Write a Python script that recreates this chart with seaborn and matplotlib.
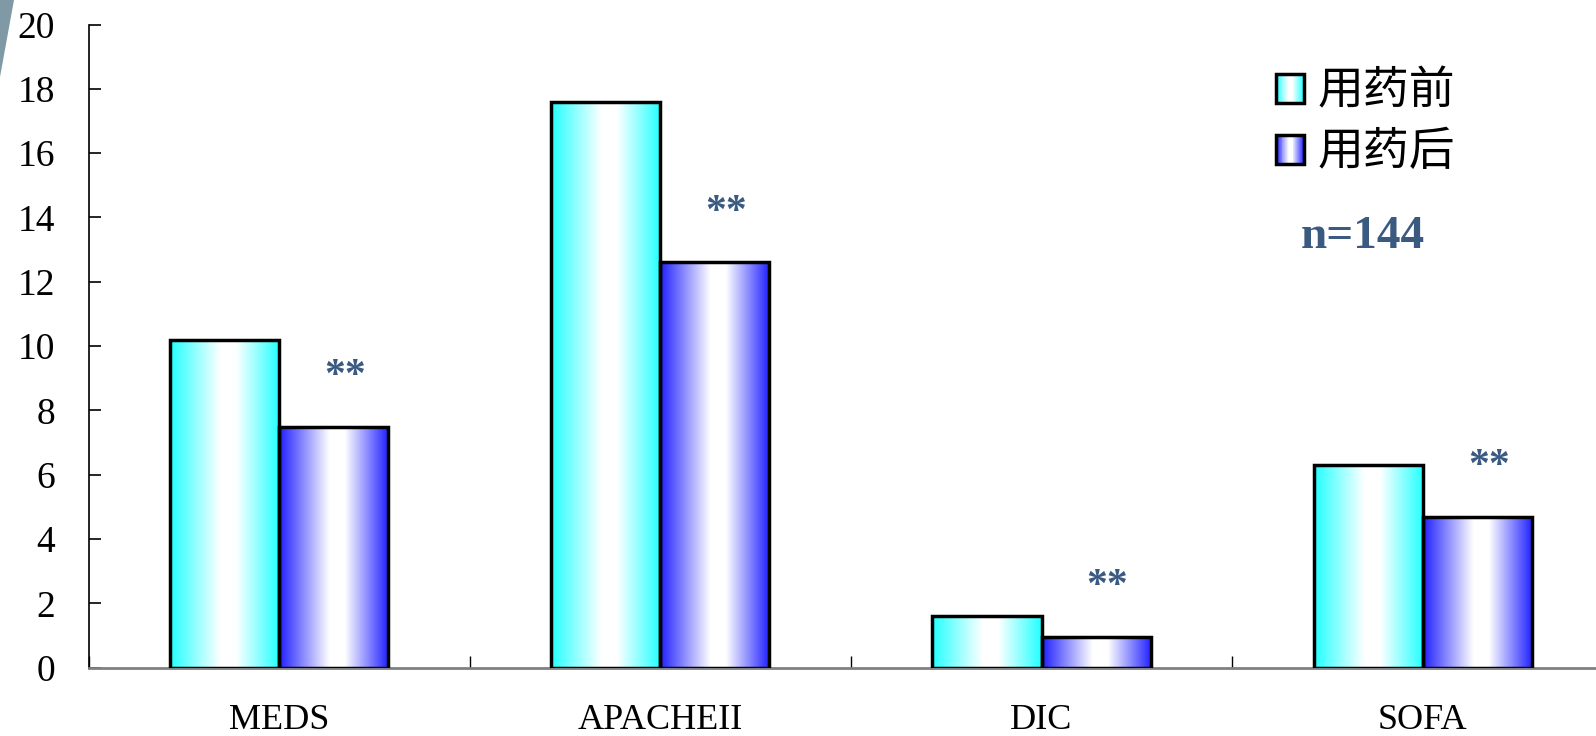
import numpy as np
import pandas as pd
import matplotlib
matplotlib.use("Agg")
import matplotlib.pyplot as plt
import seaborn as sns
from matplotlib.patches import Rectangle, Polygon
from matplotlib.legend_handler import HandlerBase
from matplotlib.colors import LinearSegmentedColormap

# Scores before / after treatment
categories = ["MEDS", "APACHEII", "DIC", "SOFA"]
groups = ["用药前", "用药后"]
before = [10.2, 17.6, 1.6, 6.3]
after = [7.5, 12.6, 0.95, 4.7]
sig_marks = ["**", "**", "**", "**"]
sample_label = "n=144"
y_ticks = list(range(0, 21, 2))

df = pd.DataFrame({
    "指标": categories * 2,
    "组别": [groups[0]] * len(categories) + [groups[1]] * len(categories),
    "值": before + after,
})

sns.set_theme(style="white")
plt.rcParams["font.family"] = ["Liberation Serif", "Noto Sans CJK SC", "DejaVu Sans"]
plt.rcParams["text.color"] = "black"
plt.rcParams["xtick.color"] = "black"
plt.rcParams["ytick.color"] = "black"

W, H = 1596, 736
fig = plt.figure(figsize=(W / 100, H / 100), dpi=100)
fig.patch.set_facecolor("white")

# decorative corner wedge
fig.add_artist(Polygon([(0, H), (14, H), (0, H - 77)], closed=True,
                       transform=None, facecolor="#7f9aa5", edgecolor="none"))

ax = fig.add_axes([88.5 / W, (H - 667.7) / H, 1524.8 / W, 643.2 / H])
sns.barplot(data=df, x="指标", y="值", hue="组别", order=categories,
            hue_order=groups, width=0.572, ax=ax, edgecolor="black",
            linewidth=2.5, legend=False, saturation=1, errorbar=None)


def grad_cmap(edge):
    return LinearSegmentedColormap.from_list(
        "g", [(0, edge), (0.46, "white"), (0.6, "white"), (1, edge)])


cmaps = [grad_cmap("#22ffff"), grad_cmap("#2020ff")]
ramp = np.linspace(0, 1, 256)[None, :]

bars = list(ax.patches)
n = len(categories)
for i, p in enumerate(bars):
    cm = cmaps[i // n]
    x0, w, h = p.get_x(), p.get_width(), p.get_height()
    p.set_facecolor("none")
    p.set_zorder(3)
    im = ax.imshow(ramp, cmap=cm, extent=(x0, x0 + w, 0, h), aspect="auto",
                   zorder=2, interpolation="bilinear")
    im.set_clip_path(p)

ax.set_xlim(-0.5, len(categories) - 0.5)
ax.set_ylim(0, 20)
ax.set_aspect("auto")

# significance marks above the post-treatment bars
for i, p in enumerate(bars[n:]):
    cx = p.get_x() + p.get_width() / 2 + 0.03
    ax.text(cx, p.get_height() + 1.55, sig_marks[i], ha="center", va="center",
            fontsize=30, fontweight="bold", color="#3a5a82", zorder=4)

fig.text(1363 / W, 1 - 237 / H, sample_label, ha="center", va="center",
         fontsize=34, fontweight="bold", color="#3b5a80")

ax.set_xlabel("")
ax.set_ylabel("")
ax.set_yticks(y_ticks)
ax.set_yticklabels([str(t) for t in y_ticks])
ax.tick_params(axis="y", direction="in", length=8.6, width=1.2, color="black",
               pad=24, labelsize=27, labelcolor="black", left=True)
ax.set_xticks(range(len(categories)))
ax.set_xticklabels(categories)
ax.tick_params(axis="x", which="major", length=0, pad=26, labelsize=26,
               labelcolor="black")
ax.set_xticks(np.arange(-0.5, len(categories), 1.0), minor=True)
ax.tick_params(axis="x", which="minor", direction="in", length=8.6, width=1.0,
               color="black", bottom=True)

for s in ("top", "right"):
    ax.spines[s].set_visible(False)
ax.spines["left"].set_color("black")
ax.spines["left"].set_linewidth(1.2)
ax.spines["bottom"].set_color("#808080")
ax.spines["bottom"].set_linewidth(2)


class GradientHandler(HandlerBase):
    def __init__(self, cmap):
        super().__init__()
        self.cmap = cmap

    def create_artists(self, legend, orig_handle, xdescent, ydescent, width,
                       height, fontsize, trans):
        x0, y0 = -xdescent, -ydescent
        k = 30
        arts = []
        for j in range(k):
            arts.append(Rectangle((x0 + j * width / k, y0), width / k * 1.05,
                                  height, facecolor=self.cmap((j + 0.5) / k),
                                  edgecolor="none", transform=trans))
        arts.append(Rectangle((x0, y0), width, height, fill=False,
                              edgecolor="black", linewidth=2.5,
                              transform=trans))
        return arts


handles = [Rectangle((0, 0), 1, 1) for _ in groups]
leg = ax.legend(handles, groups,
                handler_map={h: GradientHandler(c) for h, c in zip(handles, cmaps)},
                loc="upper left", bbox_to_anchor=(1276 / W, 1 - 67 / H),
                bbox_transform=fig.transFigure, frameon=False,
                prop={"family": ["Noto Sans CJK SC"], "size": 33},
                handlelength=0.6, handleheight=0.6, handletextpad=0.3,
                labelspacing=0.27, borderpad=0, borderaxespad=0)
for t in leg.get_texts():
    t.set_color("black")

fig.savefig("out.png", dpi=100, facecolor="white")
